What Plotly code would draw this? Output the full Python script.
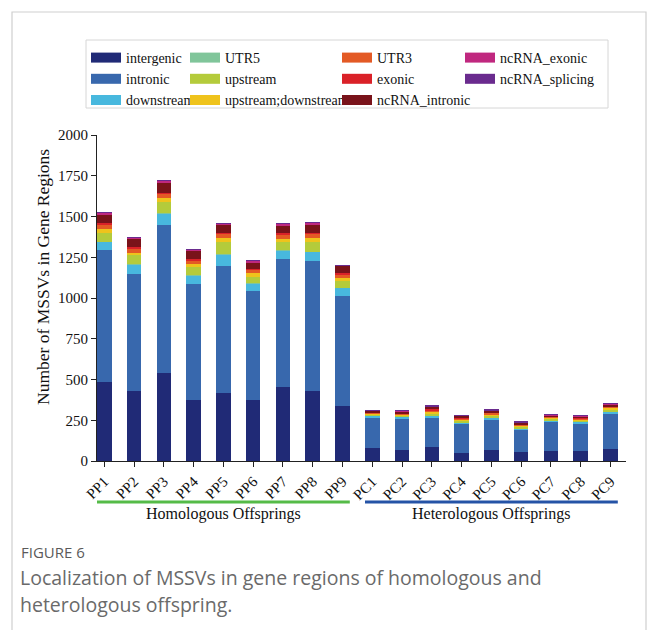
import plotly.graph_objects as go

samples = ["PP1", "PP2", "PP3", "PP4", "PP5", "PP6", "PP7", "PP8", "PP9",
           "PC1", "PC2", "PC3", "PC4", "PC5", "PC6", "PC7", "PC8", "PC9"]

intergenic = [483, 430, 540, 377, 418, 377, 451, 430, 340, 80, 68, 88, 52, 66, 53, 61, 64, 76]
intronic = [811, 716, 907, 706, 779, 665, 786, 796, 671, 186, 195, 178, 175, 188, 140, 179, 169, 211]
downstream = [51, 60, 72, 57, 72, 47, 57, 57, 51, 12, 10, 15, 8, 10, 8, 10, 8, 18]
utr5 = [1, 1, 1, 1, 1, 1, 1, 1, 1, 1, 1, 1, 1, 1, 1, 1, 1, 1]
upstream = [55, 57, 71, 47, 76, 41, 47, 62, 41, 8, 8, 12, 10, 14, 8, 8, 8, 12]
up_down = [21, 11, 21, 21, 21, 21, 20, 24, 21, 5, 5, 8, 6, 8, 6, 6, 6, 8]
utr3 = [26, 30, 27, 24, 26, 20, 29, 23, 21, 6, 5, 10, 8, 8, 7, 7, 6, 8]
exonic = [11, 10, 8, 7, 8, 4, 6, 8, 6, 2, 2, 5, 3, 3, 3, 3, 3, 3]
ncrna_intronic = [55, 47, 61, 49, 48, 41, 47, 52, 45, 8, 12, 15, 14, 10, 8, 6, 9, 12]
ncrna_exonic = [10, 8, 10, 6, 10, 10, 10, 9, 4, 3, 3, 5, 4, 4, 5, 5, 3, 4]
ncrna_splicing = [1, 1, 1, 1, 1, 1, 1, 1, 1, 1, 1, 1, 1, 1, 1, 1, 1, 1]

categories = ["intergenic", "intronic", "downstream", "UTR5", "upstream",
              "upstream;downstream", "UTR3", "exonic", "ncRNA_intronic",
              "ncRNA_exonic", "ncRNA_splicing"]
series = [intergenic, intronic, downstream, utr5, upstream, up_down, utr3,
          exonic, ncrna_intronic, ncrna_exonic, ncrna_splicing]
colors = ["#202a76", "#3868ad", "#48b8de", "#80c59a", "#b4cb3b", "#efc31c",
          "#e35a25", "#da2128", "#79131a", "#c0287f", "#6a2b8e"]
legend_ids = ["legend", "legend", "legend", "legend2", "legend2", "legend2",
              "legend3", "legend3", "legend3", "legend4", "legend4"]

group_names = ["Homologous Offsprings", "Heterologous Offsprings"]
group_members = [samples[:9], samples[9:]]
group_colors = ["#55bb48", "#2553a6"]

y_title = "Number of MSSVs in Gene Regions"
caption_label = "FIGURE 6"
caption_lines = ["Localization of MSSVs in gene regions of homologous and",
                 "heterologous offspring."]

FONT = "Liberation Serif, Times New Roman, serif"
W, H = 656, 630
OFF = 8  # page body margin offset
PL, PR, PT, PB = 97, 626, 135, 461
ML, MR, MT, MB = PL - OFF, W - (PR - OFF), PT - OFF, H - (PB - OFF)
PW, PH = W - ML - MR, H - MT - MB


def px(x):
    return (x - OFF - ML) / PW


def py(y):
    return (H - MB - (y - OFF)) / PH


fig = go.Figure()
for name, vals, col in zip(categories, series, colors):
    fig.add_trace(go.Bar(x=samples, y=vals, name=name, marker_color=col,
                         marker_line_width=0, width=0.49, showlegend=False,
                         legendgroup=name))
for name, col, lg in zip(categories, colors, legend_ids):
    fig.add_trace(go.Scatter(x=[samples[0]], y=[None], mode="lines", name=name,
                             line=dict(color=col, width=10), legend=lg,
                             legendgroup=name, showlegend=True,
                             hoverinfo="skip"))

leg_common = dict(orientation="v", xref="paper", yref="paper",
                  xanchor="left", yanchor="top", bgcolor="rgba(0,0,0,0)",
                  borderwidth=0, tracegroupgap=0, itemwidth=30,
                  font=dict(family=FONT, size=14, color="#111"))
col_x = [86, 185, 337, 460]
top_y = 42
legends = {}
for i, key in enumerate(["legend", "legend2", "legend3", "legend4"]):
    legends[key] = dict(leg_common, x=px(col_x[i]), y=py(top_y))

shapes = [
    dict(type="rect", xref="paper", yref="paper", x0=px(12), x1=px(646),
         y0=py(645), y1=py(12), line=dict(color="#cfcfcf", width=1.2),
         layer="below"),
    dict(type="rect", xref="paper", yref="paper", x0=px(86), x1=px(608),
         y0=py(108), y1=py(40), line=dict(color="#d6d6d6", width=1),
         layer="below"),
]
annotations = []
for gname, members, gcol in zip(group_names, group_members, group_colors):
    i0 = samples.index(members[0])
    i1 = samples.index(members[-1])
    shapes.append(dict(type="line", xref="x", yref="paper",
                       x0=i0 - 0.245, x1=i1 + 0.245, y0=py(502), y1=py(502),
                       line=dict(color=gcol, width=3)))
    annotations.append(dict(text=gname, xref="x", yref="paper",
                            x=(i0 + i1) / 2, y=py(514), showarrow=False,
                            xanchor="center", yanchor="middle",
                            font=dict(family=FONT, size=16, color="#111")))

annotations.append(dict(text=y_title, xref="paper", yref="paper",
                        x=px(43), y=py(277), textangle=-90, showarrow=False,
                        xanchor="center", yanchor="middle",
                        font=dict(family=FONT, size=17.5, color="#111")))
annotations.append(dict(text=caption_label, xref="paper", yref="paper",
                        x=px(19), y=py(552), xanchor="left", yanchor="middle",
                        showarrow=False,
                        font=dict(family="Open Sans", size=15, color="#5a5a5a")))
for line, yy in zip(caption_lines, [577.5, 604.5]):
    annotations.append(dict(text=line, xref="paper", yref="paper",
                            x=px(18), y=py(yy), xanchor="left",
                            yanchor="middle", showarrow=False,
                            font=dict(family="Open Sans", size=19.5,
                                      color="#6a6a6a")))

fig.update_layout(
    width=W, height=H, barmode="stack",
    margin=dict(l=ML, r=MR, t=MT, b=MB, pad=0, autoexpand=False),
    paper_bgcolor="white", plot_bgcolor="white",
    font=dict(family=FONT, size=15, color="#111"),
    shapes=shapes, annotations=annotations,
    **legends,
)
fig.update_xaxes(type="category", categoryorder="array", categoryarray=samples,
                 range=[-0.245, 17.52], showline=True, linecolor="#222",
                 linewidth=1, ticks="outside", ticklen=5, tickcolor="#222",
                 tickangle=-45, showgrid=False, zeroline=False,
                 tickfont=dict(family=FONT, size=15, color="#111"))
fig.update_yaxes(range=[0, 2000], tickvals=[0, 250, 500, 750, 1000, 1250, 1500, 1750, 2000],
                 showline=True, linecolor="#222", linewidth=1, ticks="outside",
                 ticklen=5, tickcolor="#222", showgrid=False, zeroline=False,
                 tickfont=dict(family=FONT, size=15, color="#111"))

fig.write_html("out.html")
